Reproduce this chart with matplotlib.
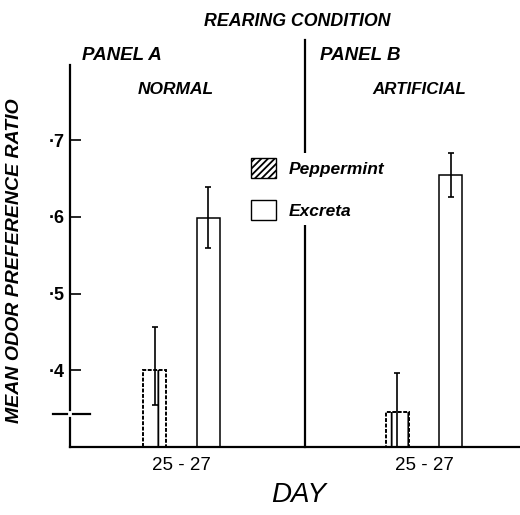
import numpy as np
import matplotlib.pyplot as plt
from matplotlib.patches import Patch

# data
groups = ["25 - 27", "25 - 27"]
panels = ["NORMAL", "ARTIFICIAL"]
pep_mean = [0.400, 0.346]
pep_hi = [0.456, 0.396]
pep_lo = [0.355, 0.300]
exc_mean = [0.598, 0.654]
exc_hi = [0.639, 0.683]
exc_lo = [0.559, 0.626]
yticks = [0.4, 0.5, 0.6, 0.7]
ytick_labels = ["\u00b74", "\u00b75", "\u00b76", "\u00b77"]

plt.rcParams["font.family"] = ["Liberation Sans", "DejaVu Sans"]
plt.rcParams["hatch.linewidth"] = 1.3

W, H = 520, 515
fig = plt.figure(figsize=(W / 100, H / 100), dpi=100)
ax = fig.add_axes([70 / W, (H - 447) / H, 450 / W, 382 / H])

x = np.arange(len(groups))
off = 0.111
bw = 0.095

pep_mean = np.array(pep_mean)
exc_mean = np.array(exc_mean)
pep_err = [pep_mean - np.array(pep_lo), np.array(pep_hi) - pep_mean]
exc_err = [exc_mean - np.array(exc_lo), np.array(exc_hi) - exc_mean]

ax.bar(x - off, pep_mean - 0.3, bw, bottom=0.3, facecolor="white",
       edgecolor="black", linewidth=1.4, linestyle=(0, (2, 0.8)), hatch="|", zorder=2)
ax.bar(x + off, exc_mean - 0.3, bw, bottom=0.3, facecolor="white",
       edgecolor="black", linewidth=1.1, zorder=2)
ax.errorbar(x - off, pep_mean, yerr=pep_err, fmt="none", ecolor="black",
            elinewidth=1.2, capsize=2.5, capthick=1.2, zorder=3)
ax.errorbar(x + off, exc_mean, yerr=exc_err, fmt="none", ecolor="black",
            elinewidth=1.2, capsize=2.5, capthick=1.2, zorder=3)

ax.set_xlim(-0.46, 1.396)
ax.set_ylim(0.3, 0.798)
ax.set_xticks(x)
ax.set_xticklabels(groups, fontsize=13.5)
ax.tick_params(axis="x", length=0, pad=7)
ax.set_yticks(yticks)
ax.set_yticklabels(ytick_labels, fontsize=13, fontweight="bold")
ax.tick_params(axis="y", direction="in", length=8, width=1.2, pad=4)

for s in ["top", "right"]:
    ax.spines[s].set_visible(False)
ax.spines["bottom"].set_linewidth(1.6)
ax.spines["left"].set_linewidth(1.6)
ax.spines["left"].set_bounds(0.348, 0.798)

# axis break
tr = ax.get_yaxis_transform()
ax.plot([0, 0], [0.3, 0.338], color="black", lw=1.6, transform=tr, clip_on=False)
ax.plot([-0.038, -0.006], [0.343, 0.343], color="black", lw=1.6, transform=tr, clip_on=False)
ax.plot([0.006, 0.045], [0.343, 0.343], color="black", lw=1.6, transform=tr, clip_on=False)

# panel divider
ax.axvline(0.51, ymin=0, ymax=1.065, color="black", lw=1.6, clip_on=False, zorder=1)

ax.set_xlabel("DAY", fontsize=20, fontstyle="italic", fontweight="light")
ax.xaxis.set_label_coords(0.507, -0.092)
ax.set_ylabel("MEAN ODOR PREFERENCE RATIO", fontsize=14, fontstyle="italic",
              fontweight="bold")
ax.yaxis.set_label_coords(-0.104, 0.487)

handles = [Patch(facecolor="white", edgecolor="black", hatch="/////", label="Peppermint"),
           Patch(facecolor="white", edgecolor="black", label="Excreta")]
leg = ax.legend(handles=handles, loc="upper left", bbox_to_anchor=(246 / W, 1 - 153 / H),
                bbox_transform=fig.transFigure, frameon=True, framealpha=1,
                edgecolor="none", prop={"style": "italic", "weight": "bold", "size": 12.5},
                handlelength=1.4, handleheight=1.35, handletextpad=0.75, labelspacing=1.3,
                borderpad=0.3, borderaxespad=0)
leg.set_zorder(5)

hdr = dict(fontstyle="italic", fontweight="bold", va="center")
fig.text(297 / W, 1 - 22 / H, "REARING CONDITION", ha="center", fontsize=12.8, **hdr)
fig.text(82 / W, 1 - 55 / H, "PANEL A", ha="left", fontsize=13.5, **hdr)
fig.text(320 / W, 1 - 55 / H, "PANEL B", ha="left", fontsize=13.5, **hdr)
fig.text(176 / W, 1 - 89 / H, panels[0], ha="center", fontsize=12.5, **hdr)
fig.text(419 / W, 1 - 89 / H, panels[1], ha="center", fontsize=12.2, **hdr)

fig.savefig("out.png", dpi=100, facecolor="white")
